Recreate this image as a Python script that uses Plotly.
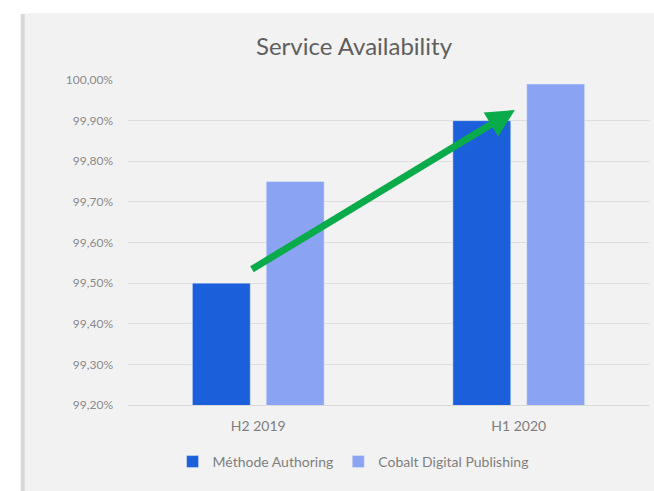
import plotly.graph_objects as go

categories = ["H2 2019", "H1 2020"]
methode = [99.50, 99.90]
cobalt = [99.75, 99.99]
series_names = ["Méthode Authoring", "Cobalt Digital Publishing"]
tick_vals = [99.2, 99.3, 99.4, 99.5, 99.6, 99.7, 99.8, 99.9, 100.0]
tick_text = ["99,20%", "99,30%", "99,40%", "99,50%", "99,60%", "99,70%", "99,80%", "99,90%", "100,00%"]
# trend arrow (data units: category index, percent)
arrow_start = (-0.03, 99.532)
arrow_end = (0.985, 99.926)

W, H = 654, 491
L, R, T, B = 127.5, 4.5, 80, 86
pw, ph = W - L - R, H - T - B
FONT = "Lato, 'Open Sans', sans-serif"

fig = go.Figure()
fig.add_trace(go.Bar(x=categories, y=methode, name=series_names[0],
                     marker_color="#1b5fdb"))
fig.add_trace(go.Bar(x=categories, y=cobalt, name=series_names[1],
                     marker_color="#8aa3f2"))

def px_x(p):
    return (p - L) / pw

def px_y(p):
    return (H - B - p) / ph

fig.update_layout(
    width=W, height=H,
    margin=dict(l=L, r=R, t=T, b=B),
    paper_bgcolor="white",
    plot_bgcolor="rgba(0,0,0,0)",
    barmode="group",
    bargap=0.433,
    bargroupgap=0.216,
    font=dict(family=FONT, color="#808080", size=12),
    title=dict(text="Service Availability", x=354 / W, xref="container", xanchor="center",
               y=1 - 47 / H, yref="container", yanchor="middle",
               font=dict(size=24, color="#5f5f5f", family=FONT)),
    xaxis=dict(showgrid=False, showline=True, linecolor="#d9d9d9", linewidth=1,
               ticks="", ticklabelstandoff=8, tickfont=dict(size=14, color="#7f7f7f")),
    yaxis=dict(range=[99.2, 100.0], tickvals=tick_vals, ticktext=tick_text,
               showgrid=True, gridcolor="#dedede", gridwidth=1, zeroline=False,
               ticks="", ticklabelstandoff=14, tickfont=dict(size=12, color="#8a8a8a")),
    legend=dict(orientation="h", x=px_x(353), xanchor="center", y=px_y(462), yanchor="middle",
                font=dict(size=14, color="#7f7f7f"), bgcolor="rgba(0,0,0,0)",
                itemwidth=30, traceorder="normal"),
    showlegend=True,
    hovermode=False,
)

# gray chart panel with left shadow
fig.add_shape(type="rect", xref="paper", yref="paper",
              x0=px_x(20), x1=px_x(25), y0=px_y(491), y1=px_y(14),
              fillcolor="#d8d8d8", line_width=0, layer="below")
fig.add_shape(type="rect", xref="paper", yref="paper",
              x0=px_x(24), x1=px_x(660), y0=px_y(495), y1=px_y(13),
              fillcolor="#f2f2f2", line_width=0, layer="below")

fig.add_annotation(x=arrow_end[0], y=arrow_end[1], ax=arrow_start[0], ay=arrow_start[1],
                   xref="x", yref="y", axref="x", ayref="y", text="",
                   showarrow=True, arrowhead=2, arrowsize=0.8, arrowwidth=7,
                   arrowcolor="#0aab4b", standoff=0, startstandoff=0)

fig.write_html("out.html", config={"displayModeBar": False},
               post_script="document.body.style.margin='0px';document.body.style.overflow='hidden';")
